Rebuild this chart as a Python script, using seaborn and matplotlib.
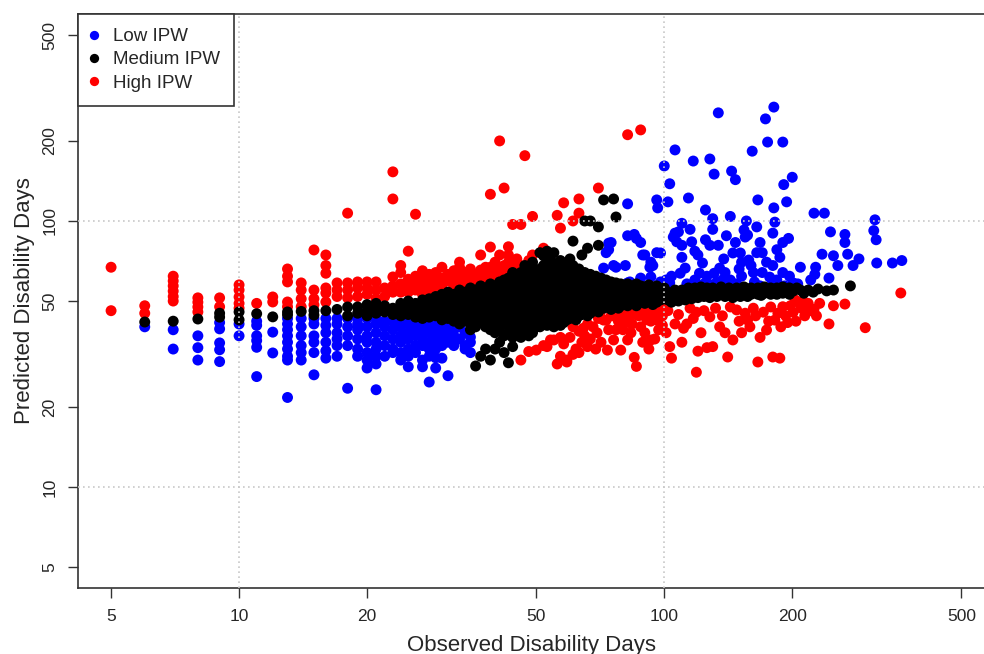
import pandas as pd
import matplotlib
matplotlib.use('Agg')
import matplotlib.pyplot as plt
import seaborn as sns

groups = ['Low IPW', 'Medium IPW', 'High IPW']
colors = {'Low IPW': '#0000ff', 'Medium IPW': '#000000', 'High IPW': '#ff0000'}
x_ticks = [5, 10, 20, 50, 100, 200, 500]
y_ticks = [5, 10, 20, 50, 100, 200, 500]

# Low IPW: short spells, one column per observed day
low_cols = [
    (6, [40]), (7, [39, 33]), (8, [37, 33.4, 30]), (9, [41.5, 39.3, 34.8, 32.8, 29.6]),
    (10, [41, 37]), (11, [42, 40.5, 37, 35.5, 33.5, 26]), (12, [38.2, 31.9]),
    (13, [43, 41, 39, 37, 35, 33, 31, 30, 21.7]), (14, [43, 40, 37, 34, 32, 30]),
    (15, [43, 41, 37, 35, 32, 26.4]), (16, [43, 40.5, 38, 35, 32.5, 30.5]),
    (17, [43, 41, 38, 36, 34, 31]), (18, [43, 40, 37, 34, 23.5]),
    (19, [43, 41, 39, 36, 33, 31]), (20, [43, 40, 37, 35, 32, 30, 28]),
    (21, [43, 41, 38, 35, 33, 31, 29, 23.2]), (22, [42, 40, 37, 34, 31]),
    (23, [42, 39, 36, 33, 32]), (24, [43, 40, 37, 35, 32, 30]),
    (25, [41, 38, 36, 33, 31, 28.3]), (26, [42, 40, 37, 34, 32]),
    (27, [42, 39, 36, 34, 30, 28.3]), (28, [40, 38, 35, 33, 31, 24.8]),
    (29, [41, 38, 36, 33, 30.6, 28]), (30, [43.8, 40, 37, 34, 30.5]),
    (31, [41.5, 38, 35, 26.2]), (32, [41.7, 39, 37, 34]), (33, [40, 36]),
    (34, [38, 34, 33]), (35, [36.6, 35, 32]),
]

# Low IPW: long spells (observed, predicted)
low_long = [
    (72, 66.5), (73, 76), (74, 82.5), (74, 78), (75, 83), (76, 68), (77, 67), (81, 68),
    (82, 58.5), (82, 88), (82, 116), (83, 59), (85, 89), (86, 86), (88, 83), (88, 61),
    (89, 74.5), (90, 74.5), (92.5, 67), (93, 61.6), (93, 70), (94, 68), (96, 76), (96, 120),
    (96.5, 112), (98, 75.8), (98, 59), (100, 161), (101, 60), (102, 118), (103, 138), (103, 58.5),
    (104, 62), (105, 87), (106, 185), (106, 90), (107, 83.5), (108, 91), (110, 98), (110, 81),
    (110, 73), (109, 63.6), (112, 66.5), (113, 58), (114, 122), (115, 93), (116, 83.5), (117, 168),
    (118, 60), (118, 77), (120, 74.5), (121, 63.6), (123, 69.5), (124, 58), (125, 110), (125, 85),
    (126, 62), (128, 171), (128, 81), (129, 57.5), (130, 102), (130, 93), (131, 150), (131, 63.6),
    (133, 59), (134, 255), (134, 81), (135, 66.5), (137, 60), (138, 72), (139, 64), (140, 57),
    (140, 88), (143, 104), (143, 60), (144, 154), (145, 75.8), (147, 143), (147, 83), (148, 58),
    (150, 66), (151, 75.8), (152, 62), (152, 70), (154, 92.5), (155, 87), (156, 100), (157, 88.5),
    (158, 71.3), (160, 68), (161, 183), (162, 64), (163, 59), (165, 76), (165, 95), (166, 120),
    (168, 57), (168, 83), (170, 76), (170, 64), (173, 242), (174, 70), (175, 198), (177, 61.5),
    (180, 68), (180, 58.5), (180, 90), (181, 268), (181, 112), (182, 99), (184, 60), (184, 78),
    (187, 73), (190, 198), (190, 64), (190, 83), (191, 137), (192, 57), (194, 118), (196, 86),
    (197, 62), (200, 146), (201, 58.5), (206, 58), (209, 67), (221, 60), (225, 107), (226, 63),
    (227, 67), (235, 75), (238, 107), (244, 61), (246, 91), (250, 74), (256, 68), (266, 89),
    (266, 83), (270, 75), (278, 68), (287, 72), (311, 92), (313, 101), (315, 85), (316, 69.5),
    (344, 69.5), (362, 71),
]

# Medium IPW: columns for short and mid spells
medium_cols = [
    (6, [41.7]), (7, [42]), (8, [42.8]), (9, [43.5, 45]), (10, [45.5, 42.5]), (11, [44.8]),
    (12, [43.6]), (13, [44.4, 45.5]), (14, [45.7]), (15, [46, 44.3]), (16, [46]), (17, [46.5]),
    (18, [47.5, 44]), (19, [47.5, 45]), (20, [48.5, 46, 44]), (21, [49, 47, 45]),
    (22, [48, 45.5]), (23, [47, 44.5]), (24, [49, 46.5, 44]), (25, [50, 47, 44.5]),
    (26, [49, 46, 43.5]), (27, [50.5, 48, 45, 43]), (28, [51, 48.5, 46, 43.5]),
    (29, [52, 49, 46.5, 44]),
    (30, [53, 50.5, 48, 46, 44, 42.5]), (31, [54, 51.5, 49, 47, 45, 43]),
    (32, [53, 50.5, 48, 46, 44, 42]), (33, [55, 52, 49.5, 47.5, 45, 43, 41]),
    (34, [54, 51, 49, 47, 44.5, 42]), (35, [56, 53, 50, 48, 46, 43.5, 41, 39]),
    (36, [55, 52, 49.5, 47, 45, 42.5, 40, 28.5]), (37, [57, 54, 51, 48.5, 46, 44, 41.5, 31]),
    (38, [56, 53, 50, 47.5, 45, 42.5, 40, 33]), (39, [58, 55, 52, 49.5, 47, 44.5, 42, 39, 30]),
    (40, [57, 54, 51, 48.5, 46, 43.5, 41, 38, 33]),
    (41, [59, 55.5, 52.5, 50, 47.5, 45, 42, 39.5, 35]),
    (42, [60, 57, 54, 51, 48.5, 46, 43.5, 41, 37, 32]),
    (43, [61, 57.5, 54.5, 52, 49, 46.5, 44, 41, 38, 29.3]),
    (44, [64, 58, 55, 52.5, 50, 47.5, 45, 42, 39, 36.5, 33.7]),
    (45, [60, 56.5, 53.5, 51, 48.5, 46, 43.5, 40.5, 37.5]),
    (46, [64, 59, 56, 53, 50.5, 48, 45.5, 43, 40, 36.5]),
    (47, [68, 61, 57.5, 54.5, 52, 49.5, 47, 44.5, 42, 39]),
    (48, [66, 62, 58.5, 55.5, 53, 50.5, 48, 45.5, 43, 40.5, 37]),
    (49, [70, 63, 59.5, 56.5, 54, 51.5, 49, 46.5, 44, 41, 38]),
    (50, [65, 61, 58, 55, 52.5, 50, 47.5, 45, 42.5, 40]),
    (51, [76, 66, 62, 58.5, 55.5, 53, 50.5, 48, 45.5, 43, 40]),
    (52, [74, 68, 64, 60, 57, 54, 51.5, 49, 46.5, 44, 41.5]),
    (53, [77, 71, 66, 62, 58.5, 55.5, 53, 50.5, 48, 45.5, 43, 40.5]),
    (54, [72, 67, 63, 59.5, 56.5, 54, 51.5, 49, 46.5, 44, 41.5]),
    (55, [76, 69, 64.5, 61, 58, 55, 52.5, 50, 47.5, 45, 42.5, 40]),
    (56, [68, 64, 60, 57, 54.5, 52, 49.5, 47, 44.5, 42]),
    (57, [71, 66, 62, 58.5, 55.5, 53, 50.5, 48, 45.5, 43, 40.5]),
    (58, [67, 63, 59.5, 56.5, 54, 51.5, 49, 46.5, 44, 41.5]),
    (59, [69, 64.5, 61, 58, 55, 52.5, 50, 47.5, 45, 42.5]),
    (60, [72, 66, 62, 58.5, 55.5, 53, 50.5, 48, 45.5, 43]),
    (61, [84, 68, 63, 59.5, 56.5, 54, 51.5, 49, 46.5, 44]),
    (62, [65, 61, 58, 55, 52.5, 50, 47.5, 45, 42.5]),
    (63, [66, 62, 59, 56, 53.5, 51, 48.5, 46, 44]),
    (64, [74.5, 63, 60, 57, 54.5, 52, 49.5, 47, 44.5]),
    (65, [100, 64, 61, 58, 55.5, 53, 50.5, 48, 45.5]),
    (66, [79, 62, 59, 56.5, 54, 51.5, 49, 46.5, 44]),
    (67, [100, 63, 60, 57.5, 55, 52.5, 50, 47.5, 45]),
    (68, [61, 58, 55.5, 53, 50.5, 48, 46]),
    (69, [62, 59, 56.5, 54, 51.5, 49, 46.5]),
    (70, [95, 81, 60, 57.5, 55, 52.5, 50, 48, 45.5]),
    (71, [61, 58, 55.5, 53, 50.5, 48]),
    (72, [120, 59.5, 57, 54.5, 52, 49.5, 47]),
    (73, [60, 57.5, 55, 52.5, 50, 47.5]),
    (74, [58, 55.5, 53, 50.5, 48]),
    (75, [59, 56.5, 54, 51.5, 49, 46.5]),
    (76, [121, 57.5, 55, 52.5, 50, 47.5]),
    (77, [103.5, 58.5, 56, 53.5, 51, 48.5]),
    (78, [57, 54.5, 52, 49.5, 47]), (79, [58, 55.5, 53, 50.5, 48]),
    (80, [56.5, 54, 51.5, 49]), (82, [58, 55.5, 53, 50.5, 48]),
    (84, [57, 54.5, 52, 49.5]), (86, [58, 55.5, 53, 50.5, 48]),
    (88, [57, 54.5, 52, 49.5]), (90, [56.5, 54, 51.5, 49]),
    (92, [57.5, 55, 52.5, 50]), (94, [56, 53.5, 51, 48.5]),
    (96, [57, 54.5, 52, 49.5]), (98, [55.5, 53, 50.5]), (100, [56, 53.5, 51]),
]

# Medium IPW: long spells (observed, predicted)
medium_long = [
    (102, 54), (102, 50.5), (104, 53), (104, 49.5), (106, 55), (106, 51.5), (108, 53.5),
    (108, 50), (110, 55), (110, 52), (112, 54), (112, 50.5), (114, 56), (114, 52.5),
    (116, 54.5), (116, 51), (118, 56), (118, 53), (120, 55), (120, 51.5), (122, 56.5),
    (122, 53.5), (124, 55), (124, 52), (126, 56), (126, 53), (128, 54.5), (128, 51.5),
    (130, 56), (130, 53), (133, 55), (133, 52), (136, 56.5), (136, 53.5), (139, 55),
    (139, 52), (142, 56), (142, 53), (145, 54.5), (145, 51.5), (148, 56), (148, 53),
    (151, 55), (151, 52), (154, 56.5), (154, 53.5), (157, 55), (157, 52), (160, 56),
    (160, 53), (163, 54.5), (166, 56), (166, 53), (169, 55), (169, 52.5), (172, 56.5),
    (172, 53.5), (175, 55), (178, 56), (178, 53), (181, 54.5), (184, 56), (184, 53),
    (187, 55), (190, 56.5), (190, 53.5), (194, 55), (197, 56), (197, 53), (201, 54.5),
    (205, 56), (209, 55), (213, 53.5), (218, 55), (224, 54), (230, 55.5), (241, 54.6),
    (250, 55), (274, 57),
]

# High IPW: columns for short spells (above the medium band)
high_cols = [
    (5, [67, 46]), (6, [48, 45]), (7, [62, 59.5, 57, 54.5, 52, 50]), (8, [51.4, 49.5, 47.5, 45.5]),
    (9, [51.4, 47.6]), (10, [57.5, 55, 51.8, 49, 47]), (11, [49]), (12, [51.8, 49.6]),
    (13, [66, 62, 59, 49.6, 47.6]), (14, [58.5, 55, 51, 47.6]), (15, [77.8, 55, 51, 48.4]),
    (16, [74.5, 68, 63.6, 56, 53.6, 49.6]), (17, [58.5, 55, 52]), (18, [107, 58.5, 55, 51.4]),
    (19, [59, 56, 52]), (20, [59, 56, 53]), (21, [59, 55, 51]), (22, [56, 52]),
    (23, [153, 121, 61.6, 57, 54]), (24, [68, 64, 58, 54]), (25, [77, 60.4, 57, 54]),
    (26, [106, 62, 58, 55]), (27, [65, 60, 56.5, 53]), (28, [63, 59, 55.5, 52.5]),
    (29, [64, 60, 57, 54]), (30, [67, 61, 57.5]), (31, [63, 59.5]), (32, [65, 60, 56.5]),
    (33, [70, 67, 62.5, 58.5]), (34, [64, 60.5, 57]), (35, [66, 61, 58.5]), (36, [63, 60, 57.5]),
    (37, [74.5, 65.4, 62]), (38, [67, 63, 59.5]), (39, [126, 79.8, 67, 64]), (40, [70, 64, 60.5]),
    (41, [200, 74.5, 66, 62.5]), (42, [133, 68, 63.5]), (43, [80, 74.5, 70, 65]), (44, [97, 68]),
    (45, [72, 65]), (46, [97, 68]), (47, [176]), (48, [71]), (49, [104, 74.5]), (52, [79]),
    (56, [105]), (57, [94]), (58, [117]), (61, [100]), (63, [121, 107]), (70, [133]),
    (82, [211]), (88, [220]),
]

# High IPW: long spells (below the medium band)
high_long = [
    (46, 30), (48, 32.3), (50, 32.7), (52, 34), (53, 33.7), (54, 35.7), (55, 35.7), (56, 29),
    (57, 31), (57, 36.5), (58, 34.5), (59, 30), (59, 29.5), (60, 36.5), (61, 40), (61, 31.5),
    (62, 33), (63, 32), (63, 38.5), (64, 35), (64.5, 39.5), (65, 37), (66, 33.7), (66, 41),
    (67, 36), (68, 40), (69, 33), (69.5, 38), (70, 43), (70.7, 45.5), (71, 35), (72, 42.4),
    (73, 42.4), (73.5, 32.7), (74, 39), (75, 44), (75, 47), (76, 35.7), (76, 44), (77, 39),
    (78, 42), (78, 46), (79, 41.5), (79, 32.7), (80, 45), (80, 39), (81, 47.5), (82, 43.5),
    (82, 35.7), (83, 41.5), (83.5, 38), (84, 41), (84, 46.5), (85, 30.7), (86, 28.4), (86, 44.5),
    (87, 44), (88, 40), (88, 47), (89, 35), (90, 38), (90, 44), (91, 42.5), (92, 33), (92, 47.5),
    (93, 35.7), (93, 42), (94, 45), (95, 46), (95, 36), (96, 42.4), (97, 39), (98, 47),
    (99, 44), (99, 40.5), (100, 48), (101, 38), (102, 46), (103, 33.7), (104, 30.5), (106, 41),
    (108, 44.5), (110, 35), (111, 39.5), (113, 41), (115, 47), (117, 43), (119, 45.4), (119, 27),
    (120, 32.4), (122, 38), (124, 46), (126, 33.4), (128, 43.6), (130, 33.7), (132, 47),
    (135, 40), (137, 44), (139, 38), (141, 30.8), (143, 47.5), (145, 35.7), (148, 46.3),
    (150, 42), (152, 38), (155, 45), (157, 42.4), (159, 40), (162, 47), (164, 44), (166, 29.5),
    (168, 36.5), (171, 45.4), (174, 38.9), (176, 42), (178, 47.5), (180, 30.8), (182, 42.4),
    (185, 45), (187, 30.5), (188, 40), (190, 47.6), (193, 44), (195, 41.5), (198, 48),
    (201, 45.4), (203, 50.5), (204, 42), (206, 49.6), (210, 47), (212, 50), (214, 44),
    (218, 49), (220, 46), (225, 46.6), (228, 44), (232, 49), (244, 41), (250, 48), (266, 48.7),
    (297, 39.7), (360, 53.6),
]


def expand(cols):
    return [(x, y) for x, ys in cols for y in ys]


def make_frame(pairs, group):
    df = pd.DataFrame(pairs, columns=['observed', 'predicted'])
    df['group'] = group
    return df


# drawing order: blue, red, then black on top
df = pd.concat([
    make_frame(expand(low_cols) + low_long, 'Low IPW'),
    make_frame(expand(high_cols) + high_long, 'High IPW'),
    make_frame(expand(medium_cols) + medium_long, 'Medium IPW'),
], ignore_index=True)

sns.set_style('ticks')
plt.rcParams['font.family'] = ['Liberation Sans', 'DejaVu Sans']

fig = plt.figure(figsize=(9.84, 6.54), dpi=100)
ax = fig.add_axes([78 / 984, 66 / 654, 907 / 984, 574 / 654])

sns.scatterplot(data=df, x='observed', y='predicted', hue='group', hue_order=groups,
                palette=colors, s=62, linewidth=0, alpha=1, ax=ax, zorder=2)

ax.set_xscale('log')
ax.set_yscale('log')
ax.set_xlim(4.18, 568)
ax.set_ylim(4.17, 600)

# dotted reference lines at the decades
for v in [10, 100]:
    ax.axvline(v, color='#c8c8c8', linestyle=(0, (1, 2)), linewidth=1.2, zorder=3)
    ax.axhline(v, color='#c8c8c8', linestyle=(0, (1, 2)), linewidth=1.2, zorder=3)

ax.xaxis.set_major_locator(matplotlib.ticker.FixedLocator(x_ticks))
ax.yaxis.set_major_locator(matplotlib.ticker.FixedLocator(y_ticks))
ax.xaxis.set_minor_locator(matplotlib.ticker.NullLocator())
ax.yaxis.set_minor_locator(matplotlib.ticker.NullLocator())
ax.set_xticklabels([str(t) for t in x_ticks])
ax.set_yticklabels([str(t) for t in y_ticks], rotation=90, va='center')
ax.tick_params(axis='both', length=7, width=1, color='#333333', labelsize=12.5, pad=8)

for sp in ax.spines.values():
    sp.set_color('#333333')
    sp.set_linewidth(1.2)

ax.set_xlabel('Observed Disability Days', fontsize=16, labelpad=8)
ax.set_ylabel('Predicted Disability Days', fontsize=16, labelpad=5)

sns.move_legend(ax, 'upper left', title=None, frameon=True, fancybox=False,
                edgecolor='#333333', framealpha=1, borderaxespad=0, fontsize=13.5,
                handlelength=0.2, handletextpad=0.9, labelspacing=0.33, borderpad=0.75,
                markerscale=0.85)
ax.get_legend().get_frame().set_linewidth(1.2)

fig.savefig('out.png', dpi=100)
